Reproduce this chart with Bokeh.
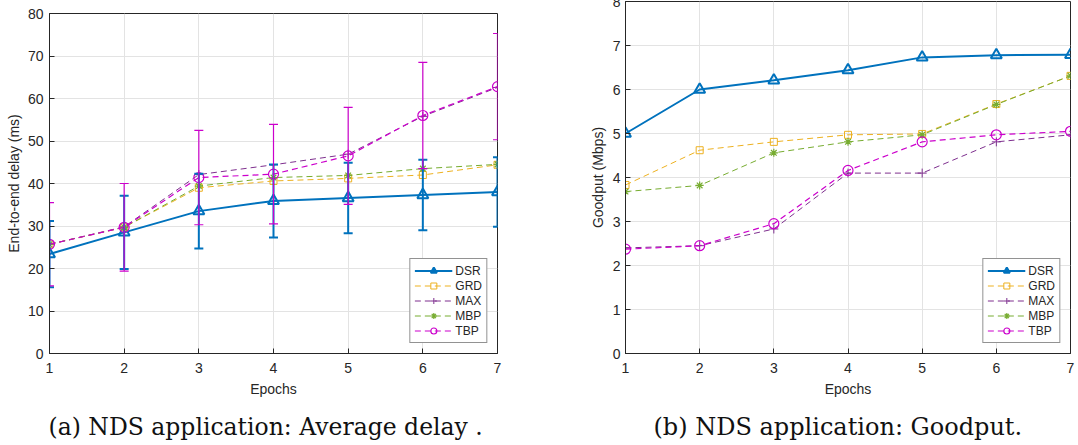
from bokeh.plotting import figure
from bokeh.models import (Whisker, TeeHead, ColumnDataSource, FixedTicker,
                          Range1d, Legend, LegendItem, Title)
from bokeh.layouts import row
from bokeh.embed import file_html
from bokeh.resources import INLINE

epochs = [1, 2, 3, 4, 5, 6, 7]

delay_dsr = [23.4, 28.5, 33.5, 35.9, 36.6, 37.3, 38.0]
delay_dsr_err = [7.8, 8.6, 8.8, 8.6, 8.3, 8.3, 8.2]
delay_grd = [25.7, 29.7, 39.0, 40.6, 41.2, 42.0, 44.4]
delay_max = [25.7, 29.8, 42.1, 44.4, 46.9, 55.8, 62.6]
delay_mbp = [25.7, 29.7, 39.4, 41.4, 41.9, 43.5, 44.5]
delay_tbp = [25.7, 29.7, 41.4, 42.2, 46.5, 56.0, 62.8]
delay_tbp_err = [9.8, 10.3, 11.1, 11.7, 11.4, 12.5, 12.5]

goodput_dsr = [5.0, 6.0, 6.21, 6.44, 6.73, 6.78, 6.79]
goodput_grd = [3.83, 4.62, 4.81, 4.97, 4.99, 5.67, 6.31]
goodput_max = [2.40, 2.45, 2.83, 4.10, 4.10, 4.81, 4.97]
goodput_mbp = [3.68, 3.82, 4.56, 4.81, 4.97, 5.66, 6.31]
goodput_tbp = [2.37, 2.45, 2.95, 4.16, 4.81, 4.97, 5.05]

delay_ticks = [0, 10, 20, 30, 40, 50, 60, 70, 80]
goodput_ticks = [0, 1, 2, 3, 4, 5, 6, 7, 8]

C_DSR = "#0072BD"
C_GRD = "#EDB120"
C_MAX = "#7E2F8E"
C_MBP = "#77AC30"
C_TBP = "#CC00CC"
AX = "#262626"
FONT = "Liberation Sans"


def make_fig(width, height, left, right, top, bottom, ymax, yticks, ylabel, caption,
             y_lab_std, y_tick_std, cap_offset, cap_size):
    p = figure(width=width, height=height, output_backend="svg", toolbar_location=None,
               title=None, x_range=Range1d(1, 7), y_range=Range1d(0, ymax),
               min_border_left=left, min_border_right=right,
               min_border_top=top, min_border_bottom=bottom)
    p.outline_line_color = AX
    p.outline_line_width = 1
    p.xaxis.ticker = FixedTicker(ticks=epochs)
    p.yaxis.ticker = FixedTicker(ticks=yticks)
    for ax in (p.xaxis[0], p.yaxis[0]):
        ax.axis_line_color = AX
        ax.major_tick_line_color = AX
        ax.major_tick_in = 5
        ax.major_tick_out = 0
        ax.minor_tick_line_color = None
        ax.major_label_text_font = FONT
        ax.major_label_text_font_size = "14px"
        ax.major_label_text_color = AX
        ax.axis_label_text_font = FONT
        ax.axis_label_text_font_size = "14px"
        ax.axis_label_text_font_style = "normal"
        ax.axis_label_text_color = AX
    p.xaxis.axis_label = "Epochs"
    p.xaxis.major_label_standoff = 9
    p.xaxis.axis_label_standoff = 5
    p.yaxis.axis_label = ylabel
    p.yaxis.major_label_standoff = y_tick_std
    p.yaxis.axis_label_standoff = y_lab_std
    p.xgrid.ticker = FixedTicker(ticks=epochs)
    p.ygrid.ticker = FixedTicker(ticks=yticks)
    p.grid.grid_line_color = "#e3e3e3"
    p.grid.grid_line_width = 1
    p.add_layout(Title(text=caption, align="left", text_font="DejaVu Serif",
                       text_font_size=cap_size, text_font_style="normal",
                       text_color="#111111", standoff=23, offset=cap_offset), "below")
    return p


def series(p, ys, color, marker, size, dash, lw, items, name, err=None):
    src = ColumnDataSource(dict(x=epochs, y=ys))
    if err is not None:
        src.data["upper"] = [a + b for a, b in zip(ys, err)]
        src.data["lower"] = [a - b for a, b in zip(ys, err)]
        w = Whisker(source=src, base="x", upper="upper", lower="lower",
                    line_color=color, line_width=lw,
                    upper_head=TeeHead(size=9, line_color=color, line_width=lw),
                    lower_head=TeeHead(size=9, line_color=color, line_width=lw),
                    level="glyph")
        p.add_layout(w)
    l = p.line("x", "y", source=src, line_color=color, line_width=lw, line_dash=dash)
    s = p.scatter("x", "y", source=src, marker=marker, size=size, line_color=color,
                  fill_color=None, line_width=lw if marker != "asterisk" else 1.2)
    items.append(LegendItem(label=name, renderers=[l, s]))


def add_legend(p, items):
    lg = Legend(items=items, location="bottom_right", margin=10,
                label_text_font=FONT, label_text_font_size="12px",
                label_text_color=AX, glyph_width=38, glyph_height=15,
                label_height=15, label_standoff=3, spacing=0, padding=4,
                border_line_color=AX, border_line_width=1,
                background_fill_color="white", background_fill_alpha=1)
    p.add_layout(lg)


p1 = make_fig(540, 465, 49, 43, 13, 110, 80, delay_ticks, "End-to-end delay (ms)",
              "(a) NDS application: Average delay .", 3, 6, -1, "23.5px")
it1 = []
series(p1, delay_dsr, C_DSR, "triangle", 11, "solid", 2, it1, "DSR", delay_dsr_err)
series(p1, delay_grd, C_GRD, "square", 7, "6 4", 1, it1, "GRD")
series(p1, delay_max, C_MAX, "cross", 9, "6 4", 1, it1, "MAX")
series(p1, delay_mbp, C_MBP, "asterisk", 8, "6 4", 1, it1, "MBP")
series(p1, delay_tbp, C_TBP, "circle", 10, "6 4", 1.2, it1, "TBP", delay_tbp_err)
add_legend(p1, it1)

p2 = make_fig(538, 477, 85, 8, 13, 112, 8, goodput_ticks, "Goodput (Mbps)",
              "(b) NDS application: Goodput.", 4, 5, 28, "24px")
p2.styles = {"margin-top": "-12px"}
it2 = []
series(p2, goodput_dsr, C_DSR, "triangle", 11, "solid", 2, it2, "DSR")
series(p2, goodput_grd, C_GRD, "square", 7, "6 4", 1, it2, "GRD")
series(p2, goodput_max, C_MAX, "cross", 9, "6 4", 1, it2, "MAX")
series(p2, goodput_mbp, C_MBP, "asterisk", 8, "6 4", 1, it2, "MBP")
series(p2, goodput_tbp, C_TBP, "circle", 10, "6 4", 1.2, it2, "TBP")
add_legend(p2, it2)

layout = row(p1, p2, spacing=0)
open("out.html", "w").write(file_html(layout, INLINE))
